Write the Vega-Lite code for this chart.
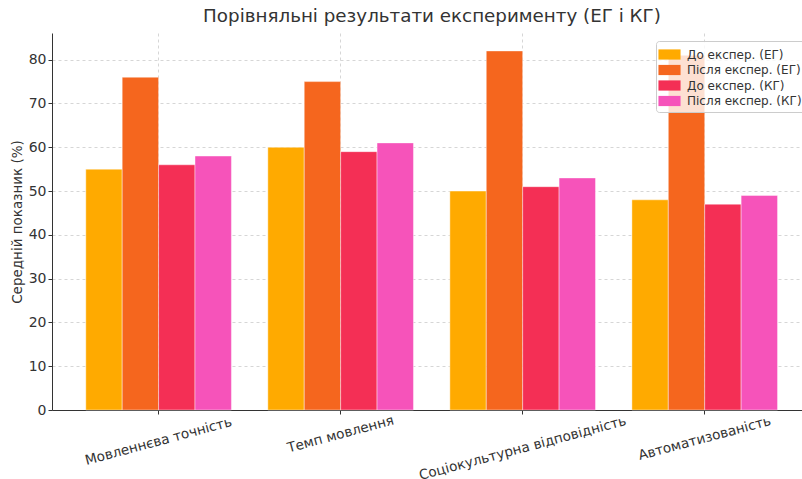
{
  "$schema": "https://vega.github.io/schema/vega-lite/v6.json",
  "autosize": {"type": "none"},
  "padding": {"left": 52, "top": 33, "right": 0, "bottom": 69},
  "width": 750,
  "height": 377,
  "title": {"text": "Порівняльні результати експерименту (ЕГ і КГ)", "fontSize": 18.3, "font": "DejaVu Sans", "fontWeight": "normal", "color": "#333", "dx": 5, "offset": 7},
  "config": {"font": "DejaVu Sans", "view": {"stroke": null}},
  "data": {"values": [
    {"category": "Мовленнєва точність", "group": "До експер. (ЕГ)", "value": 55},
    {"category": "Мовленнєва точність", "group": "Після експер. (ЕГ)", "value": 76},
    {"category": "Мовленнєва точність", "group": "До експер. (КГ)", "value": 56},
    {"category": "Мовленнєва точність", "group": "Після експер. (КГ)", "value": 58},
    {"category": "Темп мовлення", "group": "До експер. (ЕГ)", "value": 60},
    {"category": "Темп мовлення", "group": "Після експер. (ЕГ)", "value": 75},
    {"category": "Темп мовлення", "group": "До експер. (КГ)", "value": 59},
    {"category": "Темп мовлення", "group": "Після експер. (КГ)", "value": 61},
    {"category": "Соціокультурна відповідність", "group": "До експер. (ЕГ)", "value": 50},
    {"category": "Соціокультурна відповідність", "group": "Після експер. (ЕГ)", "value": 82},
    {"category": "Соціокультурна відповідність", "group": "До експер. (КГ)", "value": 51},
    {"category": "Соціокультурна відповідність", "group": "Після експер. (КГ)", "value": 53},
    {"category": "Автоматизованість", "group": "До експер. (ЕГ)", "value": 48},
    {"category": "Автоматизованість", "group": "Після експер. (ЕГ)", "value": 81},
    {"category": "Автоматизованість", "group": "До експер. (КГ)", "value": 47},
    {"category": "Автоматизованість", "group": "Після експер. (КГ)", "value": 49}
  ]},
  "mark": {"type": "bar", "stroke": "white", "strokeWidth": 0.6, "strokeOpacity": 0.7},
  "encoding": {
    "x": {
      "field": "category", "type": "nominal", "sort": null,
      "scale": {"paddingInner": 0.2, "paddingOuter": 0.16, "align": 0.58},
      "axis": {
        "title": null,
        "labelAngle": -15,
        "labelAlign": "center",
        "labelBaseline": "middle",
        "labelFontSize": 13.6,
        "labelColor": "#333",
        "labelLimit": 0,
        "labelPadding": {"condition": [
          {"test": "datum.value == 'Темп мовлення'", "value": 20},
          {"test": "datum.value == 'Соціокультурна відповідність'", "value": 34},
          {"test": "datum.value == 'Автоматизованість'", "value": 24}
        ], "value": 27},
        "bandPosition": 0.5,
        "tickSize": 4,
        "tickColor": "#333",
        "domainColor": "#333",
        "grid": true,
        "gridColor": "#cccccc",
        "gridDash": [3, 3],
        "gridWidth": 0.8
      }
    },
    "xOffset": {"field": "group", "type": "nominal", "sort": ["До експер. (ЕГ)", "Після експер. (ЕГ)", "До експер. (КГ)", "Після експер. (КГ)"]},
    "y": {
      "field": "value", "type": "quantitative",
      "scale": {"domain": [0, 86.1], "nice": false},
      "axis": {
        "title": "Середній показник (%)",
        "titleFontSize": 13.5,
        "titleFontWeight": "normal",
        "titleColor": "#333",
        "titlePadding": 4,
        "values": [0, 10, 20, 30, 40, 50, 60, 70, 80],
        "labelFontSize": 14,
        "labelColor": "#333",
        "tickSize": 4,
        "tickColor": "#333",
        "domainColor": "#333",
        "gridColor": "#cccccc",
        "gridDash": [3, 3],
        "gridWidth": 0.8
      }
    },
    "color": {
      "field": "group", "type": "nominal",
      "sort": ["До експер. (ЕГ)", "Після експер. (ЕГ)", "До експер. (КГ)", "Після експер. (КГ)"],
      "scale": {"range": ["#FFAA00", "#F5661E", "#F42F55", "#F653BA"]},
      "legend": {
        "title": null,
        "orient": "none",
        "legendX": 604,
        "legendY": 8,
        "fillColor": "rgba(255,255,255,0.8)",
        "strokeColor": "#cccccc",
        "cornerRadius": 3,
        "padding": 5,
        "rowPadding": 0.5,
        "labelFontSize": 12,
        "labelColor": "#333",
        "labelOffset": 9,
        "symbolType": "M -1.3 -0.6 L 1.3 -0.6 L 1.3 0.6 L -1.3 0.6 Z",
        "symbolSize": 289,
        "symbolStrokeWidth": 0,
        "symbolOpacity": 1
      }
    }
  }
}
